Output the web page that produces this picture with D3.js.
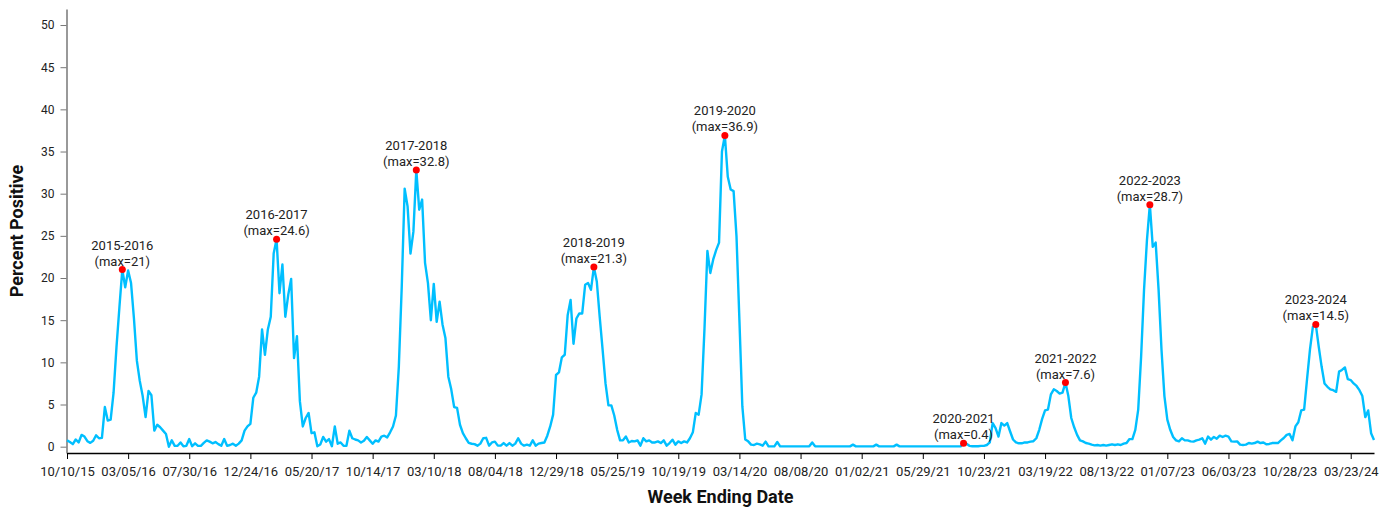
<!DOCTYPE html>
<html>
<head>
<meta charset="utf-8">
<script src="https://cdn.jsdelivr.net/npm/d3@7"></script>
<style>
  body { margin: 0; background: #fff; }
  svg text { font-family: Roboto, "Noto Sans", "Liberation Sans", sans-serif; }
</style>
</head>
<body>
<svg id="chart" width="1390" height="510"></svg>
<script>
// Week ending date of the first observation; one value per week after it.
const firstWeekEnding = "10/10/15";

// Weekly percent of specimens testing positive.
const percentPositive = [
  0.75, 0.55, 0.3, 0.85, 0.5, 1.4, 1.2, 0.65, 0.45, 0.7,
  1.35, 1.0, 1.05, 4.7, 3.1, 3.2, 6.4, 11.8, 16.5, 21.0,
  18.9, 20.9, 19.4, 15.2, 10.2, 7.8, 6.0, 3.5, 6.6, 6.1,
  1.9, 2.6, 2.3, 1.9, 1.5, 0.0, 0.75, 0.1, 0.1, 0.5,
  0.05, 0.1, 0.9, 0.05, 0.4, 0.1, 0.1, 0.45, 0.75, 0.6,
  0.4, 0.55, 0.3, 0.1, 0.9, 0.1, 0.2, 0.35, 0.12, 0.36,
  0.75, 1.9, 2.4, 2.7, 5.8, 6.4, 8.3, 13.9, 10.9, 13.9,
  15.4, 22.9, 24.6, 18.2, 21.6, 15.4, 18.0, 19.9, 10.5, 13.1,
  5.4, 2.4, 3.4, 4.0, 1.6, 1.7, 0.05, 0.25, 1.15, 0.6,
  0.9, 0.05, 2.4, 0.35, 0.5, 0.1, 0.1, 1.9, 1.0, 0.85,
  0.75, 0.5, 0.7, 1.15, 0.75, 0.35, 0.75, 0.6, 1.2, 1.3,
  1.1, 1.7, 2.4, 3.7, 9.5, 19.0, 30.6, 28.5, 22.9, 25.5,
  32.8, 28.1, 29.3, 21.8, 19.4, 15.0, 19.3, 14.8, 17.2, 14.5,
  12.9, 8.3, 6.8, 4.7, 4.6, 2.6, 1.6, 1.0, 0.45, 0.35,
  0.3, 0.12, 0.36, 1.0, 1.05, 0.12, 0.5, 0.6, 0.12, 0.12,
  0.43, 0.12, 0.43, 0.12, 0.36, 1.0, 0.36, 0.12, 0.24, 0.12,
  0.75, 0.12, 0.36, 0.43, 0.5, 1.3, 2.4, 3.8, 8.5, 8.8,
  10.6, 10.9, 15.6, 17.4, 12.2, 15.2, 15.8, 15.8, 19.2, 19.4,
  18.6, 21.3, 19.6, 15.4, 11.5, 7.5, 4.9, 4.9, 3.7, 2.0,
  0.75, 0.75, 1.2, 0.5, 0.67, 0.63, 0.75, 0.12, 1.0, 0.63,
  0.75, 0.5, 0.5, 0.63, 0.43, 0.75, 0.12, 0.43, 0.83, 0.24,
  0.63, 0.43, 0.63, 0.5, 1.0, 1.7, 4.0, 3.8, 6.2, 14.0,
  23.2, 20.6, 22.2, 23.3, 24.2, 35.0, 36.9, 32.0, 30.5, 30.3,
  24.9, 15.0, 4.8, 0.85, 0.63, 0.24, 0.2, 0.36, 0.28, 0.12,
  0.6, 0.04, 0.04, 0.04, 0.55, 0.04, 0.04, 0.04, 0.04, 0.04,
  0.04, 0.04, 0.04, 0.04, 0.04, 0.04, 0.5, 0.04, 0.04, 0.04,
  0.04, 0.04, 0.04, 0.04, 0.04, 0.04, 0.04, 0.04, 0.04, 0.04,
  0.24, 0.04, 0.04, 0.04, 0.04, 0.04, 0.04, 0.04, 0.24, 0.04,
  0.04, 0.04, 0.04, 0.04, 0.04, 0.24, 0.04, 0.04, 0.04, 0.04,
  0.04, 0.04, 0.04, 0.04, 0.04, 0.04, 0.04, 0.04, 0.04, 0.04,
  0.04, 0.04, 0.04, 0.04, 0.04, 0.04, 0.04, 0.04, 0.4, 0.35,
  0.1, 0.05, 0.05, 0.05, 0.1, 0.1, 0.2, 0.5, 2.8, 2.2,
  1.2, 2.8, 2.5, 2.8, 1.8, 0.85, 0.5, 0.4, 0.4, 0.5,
  0.5, 0.6, 0.65, 1.0, 2.0, 3.3, 4.3, 4.4, 6.2, 6.8,
  6.6, 6.3, 6.4, 7.6, 6.0, 3.4, 2.3, 1.4, 0.75, 0.63,
  0.43, 0.36, 0.24, 0.16, 0.2, 0.12, 0.2, 0.12, 0.2, 0.28,
  0.2, 0.28, 0.2, 0.36, 0.43, 0.9, 0.9, 2.0, 4.4, 10.7,
  18.6, 24.5, 28.7, 23.7, 24.2, 18.6, 11.5, 6.0, 3.2, 2.0,
  1.15, 0.75, 0.63, 1.0, 0.75, 0.75, 0.63, 0.6, 0.75, 0.83,
  1.0, 0.36, 1.2, 0.83, 1.15, 0.95, 1.3, 1.15, 1.3, 1.2,
  0.63, 0.6, 0.63, 0.24, 0.2, 0.24, 0.43, 0.36, 0.43, 0.6,
  0.43, 0.5, 0.28, 0.32, 0.43, 0.43, 0.43, 0.75, 1.03, 1.4,
  1.5, 0.75, 2.4, 2.9, 4.3, 4.4, 8.0, 11.5, 14.2, 14.5,
  11.9, 9.5, 7.5, 7.1, 6.8, 6.7, 6.5, 8.9, 9.1, 9.4,
  8.0, 7.9, 7.5, 7.2, 6.7, 6.0, 3.5, 4.3, 1.6, 0.8
];

// Labelled weeks on the horizontal axis.
const tickLabels = [
  "10/10/15", "03/05/16", "07/30/16", "12/24/16", "05/20/17", "10/14/17",
  "03/10/18", "08/04/18", "12/29/18", "05/25/19", "10/19/19", "03/14/20",
  "08/08/20", "01/02/21", "05/29/21", "10/23/21", "03/19/22", "08/13/22",
  "01/07/23", "06/03/23", "10/28/23", "03/23/24"
];

// Respiratory seasons run October through September.
const seasonNames = [
  "2015-2016", "2016-2017", "2017-2018", "2018-2019", "2019-2020",
  "2020-2021", "2021-2022", "2022-2023", "2023-2024"
];

const yTicks = [0, 5, 10, 15, 20, 25, 30, 35, 40, 45, 50];

// ---- derived records ----
const parse = d3.timeParse("%m/%d/%y");
const fmt = d3.timeFormat("%m/%d/%y");
const start = parse(firstWeekEnding);
const weeks = percentPositive.map((v, i) => {
  const date = d3.timeDay.offset(start, 7 * i);
  const yr = date.getFullYear();
  const sy = date.getMonth() >= 9 ? yr : yr - 1;
  return { label: fmt(date), value: v, season: `${sy}-${sy + 1}` };
});

const seasonPeaks = seasonNames.map(name => {
  const rows = weeks.filter(w => w.season === name);
  const best = rows[d3.maxIndex(rows, r => r.value)];
  return { name, label: best.label, value: best.value };
});

// ---- layout ----
const svg = d3.select("#chart");
const plotLeft = 67, plotRight = 1374, plotTop = 9, plotBottom = 453;

const x = d3.scalePoint()
  .domain(weeks.map(w => w.label))
  .range([plotLeft, plotRight]);

const y = d3.scaleLinear()
  .domain([-0.75, d3.max(percentPositive) + 15])
  .range([plotBottom, plotTop]);

// y axis
const yAxis = svg.append("g")
  .attr("transform", `translate(${plotLeft - 0.5},0)`)
  .call(d3.axisLeft(y).tickValues(yTicks).tickSize(6).tickSizeOuter(0).tickPadding(6));
yAxis.select(".domain").attr("stroke", "#777").attr("stroke-width", 1.5);
yAxis.selectAll(".tick line").attr("stroke", "#777");
yAxis.selectAll(".tick text").attr("font-size", 12).attr("fill", "#222")
  .style("font-family", "Roboto, sans-serif");

// x axis
const xAxis = svg.append("g")
  .attr("transform", `translate(0,${plotBottom})`)
  .call(d3.axisBottom(x).tickValues(tickLabels).tickSize(6).tickSizeOuter(0).tickPadding(8));
xAxis.select(".domain").attr("stroke", "#000").attr("stroke-width", 1.5);
xAxis.selectAll(".tick line").attr("stroke", "#000");
xAxis.selectAll(".tick text").attr("font-size", 13).attr("fill", "#222")
  .style("font-family", "Roboto, sans-serif");

// weekly line
const line = d3.line()
  .x(d => x(d.label))
  .y(d => y(d.value));

svg.append("path")
  .datum(weeks)
  .attr("fill", "none")
  .attr("stroke", "#00bfff")
  .attr("stroke-width", 2.4)
  .attr("stroke-linejoin", "round")
  .attr("d", line);

// season peaks
const peaks = svg.append("g");
peaks.selectAll("circle")
  .data(seasonPeaks)
  .join("circle")
  .attr("cx", d => x(d.label))
  .attr("cy", d => y(d.value))
  .attr("r", 3.5)
  .attr("fill", "#ff0000");

const peakText = peaks.selectAll("text")
  .data(seasonPeaks)
  .join("text")
  .attr("text-anchor", "middle")
  .attr("font-size", 13)
  .attr("fill", "#222")
  .attr("x", d => x(d.label))
  .attr("y", d => y(d.value) - 20);
peakText.append("tspan").text(d => d.name);
peakText.append("tspan")
  .attr("x", d => x(d.label))
  .attr("dy", 16)
  .text(d => `(max=${d3.format("~g")(d.value)})`);

// axis titles
svg.append("text")
  .attr("transform", `translate(23,231) rotate(-90)`)
  .attr("text-anchor", "middle")
  .attr("font-size", 18)
  .attr("font-weight", "bold")
  .attr("fill", "#111")
  .text("Percent Positive");

svg.append("text")
  .attr("x", (plotLeft + plotRight) / 2)
  .attr("y", 503)
  .attr("text-anchor", "middle")
  .attr("font-size", 18)
  .attr("font-weight", "bold")
  .attr("fill", "#111")
  .text("Week Ending Date");
</script>
</body>
</html>
